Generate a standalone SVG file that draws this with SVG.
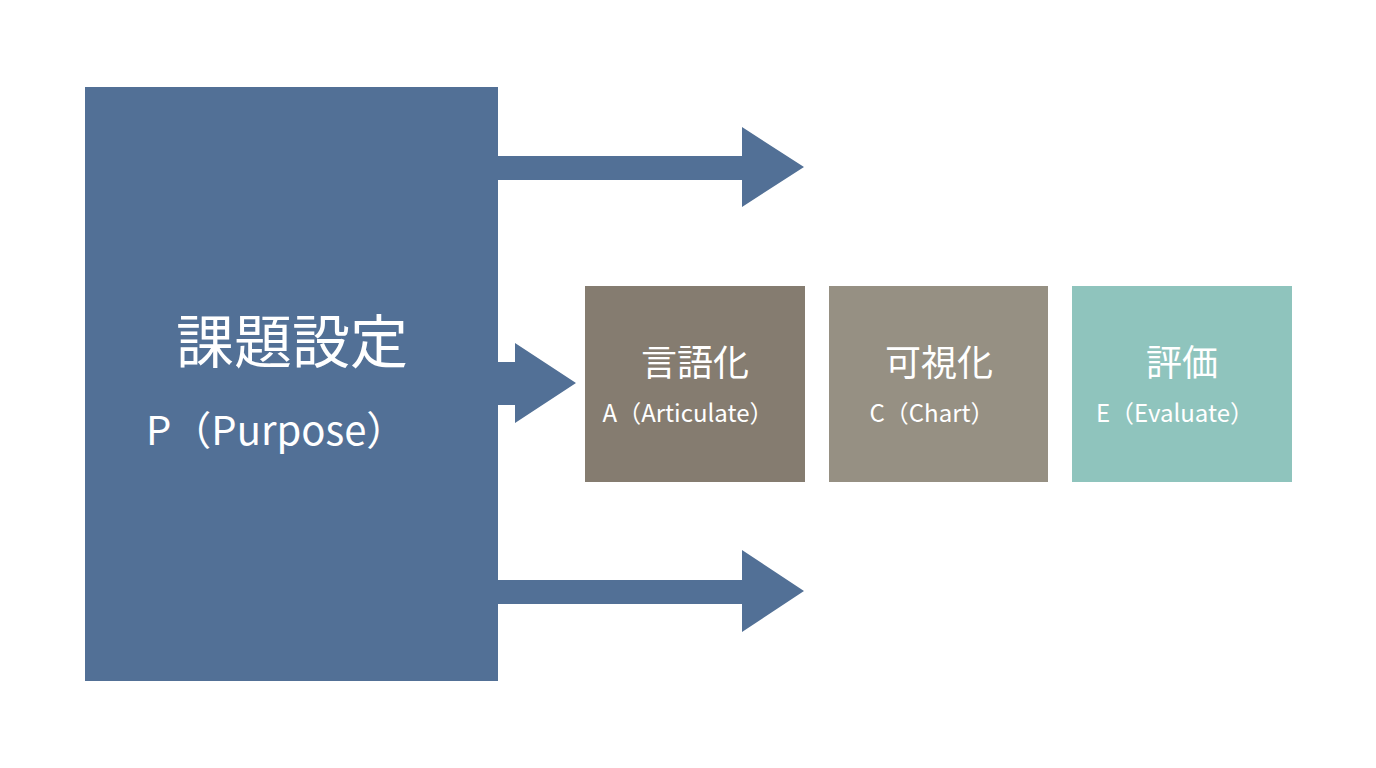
<svg xmlns="http://www.w3.org/2000/svg" width="1376" height="768" viewBox="0 0 1376 768">
<style>
.t{font-family:"Noto Sans CJK JP","Noto Sans",sans-serif;fill:#fff}
.big{font-size:58px}
.sub{font-size:40px}
.h{font-size:36px;text-anchor:middle}
.s{font-size:24px;text-anchor:middle}
.ar{fill:#527096}
</style>
<rect width="1376" height="768" fill="#fff"/>
<g id="connectors">
<polygon class="ar" points="498,156 742,156 742,127 804,167 742,207 742,180 498,180"/>
<polygon class="ar" points="498,362 515,362 515,343 576,383 515,423 515,405 498,405"/>
<polygon class="ar" points="498,580 742,580 742,550 804,591 742,632 742,604 498,604"/>
</g>
<g id="purpose">
<rect x="85" y="87" width="413" height="594" fill="#527096"/>
<text class="t big" x="292" y="363" text-anchor="middle">課題設定</text>
<text class="t sub" x="146" y="445">P（Purpose）</text>
</g>
<g id="articulate">
<rect x="585" y="286" width="220" height="196" fill="#857c70"/>
<text class="t h" x="695" y="376">言語化</text>
<text class="t s" x="688" y="422">A（Articulate）</text>
</g>
<g id="chart">
<rect x="829" y="286" width="219" height="196" fill="#969083"/>
<text class="t h" x="939" y="376">可視化</text>
<text class="t s" x="932" y="422">C（Chart）</text>
</g>
<g id="evaluate">
<rect x="1072" y="286" width="220" height="196" fill="#8fc4bd"/>
<text class="t h" x="1182" y="376">評価</text>
<text class="t s" x="1175" y="422">E（Evaluate）</text>
</g>
</svg>
